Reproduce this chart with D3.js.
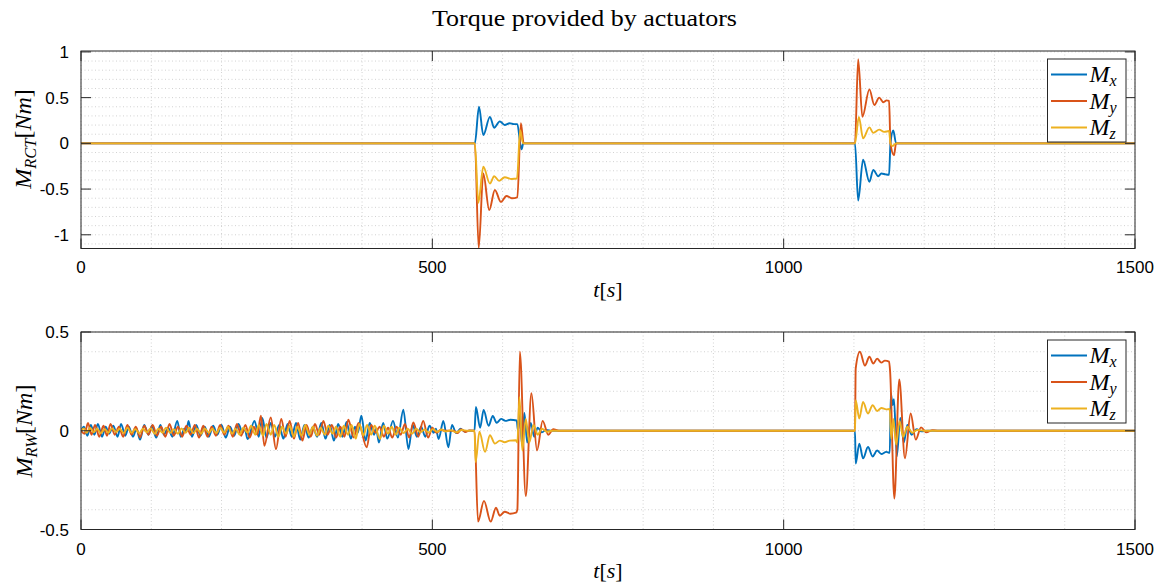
<!DOCTYPE html>
<html><head><meta charset="utf-8">
<script src="https://cdn.jsdelivr.net/npm/d3@7"></script>
<style>body{margin:0;background:#fff;} svg{display:block;}</style>
</head><body><svg id="c" width="1164" height="587"></svg>
<script>
// ---------- data ----------
const titleText = "Torque provided by actuators";
const timeDomain = [0, 1500];
const xTicks = [0, 500, 1000, 1500];
const xTickLabels = ["0", "500", "1000", "1500"];
const rctTicks = [-1, -0.5, 0, 0.5, 1];
const rctTickLabels = ["-1", "-0.5", "0", "0.5", "1"];
const rwTicks = [-0.5, 0, 0.5];
const rwTickLabels = ["-0.5", "0", "0.5"];
const legendSubs = ["x", "y", "z"];
const seriesColors = ["#0072BD", "#D95319", "#EDB120"];

// RCT torques [t (s), M (Nm)]
const rctMx = [[0,0],[560.5,0],[566.4,0.40],[572.5,0.09],[582,0.29],[588,0.17],[596,0.24],[603,0.20],[610,0.22],[616,0.21],[621,0.21],[625,0],[627,-0.065],[629.5,0],
  [1101.5,0],[1106,-0.626],[1113,-0.18],[1122,-0.42],[1127.5,-0.29],[1134.6,-0.36],[1139,-0.33],[1145,-0.34],[1150,-0.345],[1152,0],[1156,0.14],[1160,0],[1500,0]];
const rctMy = [[0,0],[560.5,0],[566,-1.145],[572.5,-0.33],[581,-0.73],[589,-0.51],[597.5,-0.64],[605.5,-0.575],[613,-0.60],[621,-0.59],[626,0.22],[630,0],
  [1101.5,0],[1106,0.92],[1112,0.29],[1122,0.59],[1129,0.42],[1136,0.50],[1142,0.45],[1146.5,0.47],[1150,0.465],[1152,0],[1157,-0.13],[1160,0],[1500,0]];
const rctMz = [[0,0],[560.5,0],[565.5,-0.65],[572.5,-0.255],[582,-0.44],[588,-0.36],[595,-0.41],[603,-0.37],[613,-0.39],[620.5,-0.385],[625,0.145],[629,0],
  [1101.5,0],[1107,0.29],[1113,0.055],[1122,0.175],[1127.5,0.115],[1136,0.15],[1143,0.125],[1150,0.135],[1152,0],[1155,-0.03],[1160,0],[1500,0]];

// Reaction wheel torques [t (s), M (Nm)]
const rwMx = [[0,0],[4,0.02],[9,-0.025],[14,0.03],[19,-0.02],[24,0.035],[30,-0.03],[35,0.02],[40,-0.015],[46,0.025],[52,-0.03],[57,0.035],[63,-0.025],[68,0.02],[74,-0.03],[79,0.01],[84,-0.045],[90,0.03],[96,-0.02],[101,0.025],[107,-0.035],[113,0.03],[118,-0.02],[124,0.015],[130,-0.03],[137,0.05],[142,-0.03],[147,0.01],[150,-0.005],[153,0.05],[158,-0.03],[164,0.03],[170,-0.025],[176,0.02],[182,-0.03],[188,0.025],[194,-0.02],[200,0.03],[206,-0.035],[212,0.02],[218,-0.025],[224,0.035],[230,-0.01],[233,0.01],[237,-0.042],[247,0.05],[253,-0.03],[258,0.065],[264,-0.035],[270,0.04],[276,-0.03],[282,0.03],[288,-0.04],[294,0.035],[300,-0.03],[306,0.04],[312,-0.045],[318,0.03],[324,-0.035],[330,0.02],[336,-0.03],[342,0.04],[348,-0.04],[354,0.03],[360,-0.05],[366,0.035],[372,-0.03],[378,0.045],[384,-0.04],[390,0.02],[394,-0.01],[399,0.076],[405,-0.05],[411,0.04],[417,-0.02],[420,0.01],[424,-0.06],[430,0.04],[436,-0.04],[444,0.05],[451,-0.035],[458.7,0.106],[466,-0.093],[472,0.03],[478,-0.03],[484,0.02],[490,-0.03],[496,0.025],[502,-0.01],[505,0.01],[509,-0.042],[515.7,0.05],[522.8,-0.084],[528,0.03],[534,-0.012],[540,0.01],[546,-0.004],[552,0],[560,0],
  [562,0.12],[568,0.015],[573,0.105],[580,0.025],[586,0.075],[591.5,0.04],[598,0.06],[604,0.05],[611,0.056],[620,0.052],[622,0.0],[624.5,0.1],[627.5,-0.07],[631,0.09],[635,-0.06],[640,0.04],[645,-0.03],[650,0.015],[656,-0.008],[662,0.004],[670,0],
  [1101.5,0],[1102.5,-0.166],[1107.6,-0.065],[1113,-0.14],[1120,-0.082],[1126.6,-0.13],[1133,-0.1],[1139,-0.118],[1146,-0.107],[1151,-0.112],[1152.5,0.19],[1155,0.13],[1157,0.16],[1161,-0.13],[1166,0.065],[1171,-0.06],[1176,0.03],[1182,-0.02],[1189,0.008],[1196,-0.003],[1205,0],[1500,0]];
const rwMy = [[0,0],[5,-0.015],[10,0.039],[15,-0.02],[20,0.03],[26,-0.03],[32,0.025],[37,-0.025],[42,0.035],[48,-0.02],[54,0.02],[60,-0.03],[66,0.03],[72,-0.02],[78,0.02],[84,-0.034],[90,0.025],[96,-0.02],[102,0.03],[108,-0.025],[114,0.02],[120,-0.03],[126,0.035],[132,-0.025],[138,0.02],[144,-0.03],[150,0.025],[156,-0.02],[162,0.03],[168,-0.035],[174,0.025],[180,-0.03],[186,0.02],[192,-0.025],[198,0.03],[204,-0.02],[210,0.025],[216,-0.03],[222,0.035],[228,-0.025],[234,0.03],[240,-0.035],[246,0.02],[251,-0.02],[256,0.076],[261,-0.076],[270,0.067],[277.5,-0.093],[285,0.06],[291,-0.03],[297,0.05],[303,-0.04],[309,0.04],[315,-0.05],[321,0.03],[327,-0.03],[333,0.034],[339,-0.02],[345,0.05],[351,-0.02],[357,0.03],[363,-0.035],[369,0.02],[375,-0.03],[380.5,0.056],[388,-0.034],[395,0.04],[406.6,-0.084],[413,0.03],[419,-0.01],[425,0.02],[431,-0.03],[437,0.015],[443,-0.035],[449,0.02],[455,-0.02],[461,0.034],[467,-0.035],[473,0.042],[480,-0.03],[487,0.05],[494,-0.035],[500,0.015],[506,-0.01],[512,0.005],[518,0],[530,0],[536,-0.012],[541,0.008],[547,-0.006],[553,0.002],[560,0],
  [565,-0.46],[573.5,-0.355],[583,-0.46],[590.6,-0.39],[596,-0.43],[603,-0.41],[611,-0.42],[619,-0.415],[621,-0.4],[624.5,0.40],[633,-0.33],[641,0.19],[649,-0.1],[657,0.05],[665,-0.02],[672,0.008],[680,0],
  [1101.5,0],[1102.5,0.315],[1108.5,0.40],[1115.7,0.33],[1122,0.375],[1127.5,0.34],[1133,0.365],[1139,0.345],[1144,0.355],[1150,0.35],[1151.5,0.3],[1157.5,-0.343],[1164.5,0.26],[1172.6,-0.14],[1180.7,0.087],[1188,-0.045],[1195.5,0.017],[1203,-0.008],[1212,0.003],[1220,0],[1500,0]];
const rwMz = [[0,0],[4,0.012],[8,-0.01],[13,0.015],[18,-0.008],[23,0.01],[28,-0.012],[34,0.008],[39,-0.01],[44,0.012],[50,-0.006],[55,0.01],[61,-0.012],[66,0.015],[72,-0.01],[77,0.008],[83,-0.012],[88,0.01],[94,-0.008],[99,0.012],[105,-0.015],[110,0.01],[116,-0.01],[121,0.015],[127,-0.01],[132,0.008],[138,-0.015],[143,0.012],[149,-0.01],[154,0.015],[160,-0.012],[165,0.01],[171,-0.015],[176,0.012],[182,-0.01],[187,0.01],[193,-0.012],[198,0.015],[204,-0.01],[209,0.02],[215,-0.015],[220,0.01],[226,-0.02],[231,0.015],[237,-0.01],[242,0.025],[248,-0.02],[253,0.03],[259,-0.025],[264,0.035],[270,-0.02],[275,0.03],[281,-0.03],[286,0.02],[292,-0.015],[297,0.025],[303,-0.03],[308,0.02],[314,-0.025],[319,0.03],[325,-0.02],[330,0.02],[336,-0.025],[341,0.015],[347,-0.02],[352,0.025],[358,-0.015],[363,0.02],[369,-0.03],[374,0.025],[380,-0.02],[385,0.03],[391,-0.04],[396,0.035],[402,-0.025],[407,0.03],[413,-0.02],[418,0.025],[425.5,-0.042],[431,0.025],[437,-0.015],[442,0.02],[448,-0.02],[453,0.015],[459,-0.012],[465,0.01],[471,-0.015],[477,0.01],[483,-0.008],[489,0.006],[495,-0.01],[501,0.008],[507,-0.005],[513,0.006],[519,-0.004],[526,0.003],[534,-0.008],[542,0.004],[550,0],[560,0],
  [561.6,-0.158],[567,-0.005],[575,-0.107],[582,-0.023],[589,-0.065],[596,-0.05],[603,-0.058],[610,-0.05],[619,-0.048],[621,-0.06],[624,0.17],[628,-0.1],[633,0.06],[638,-0.06],[644,0.03],[650,-0.02],[656,0.01],[663,-0.005],[670,0],
  [1101.5,0],[1102.5,0.155],[1107.6,0.062],[1113,0.146],[1120,0.087],[1126.6,0.129],[1133,0.1],[1139,0.115],[1146,0.108],[1151,0.11],[1153,-0.04],[1156,0.06],[1160,-0.07],[1165,0.05],[1170,-0.03],[1176,0.02],[1183,-0.01],[1190,0.004],[1200,0],[1500,0]];

// ---------- drawing ----------
const svg = d3.select("#c");
const serif = "'Liberation Serif', 'Times New Roman', serif";
const sans = "'Liberation Sans', Arial, Helvetica, sans-serif";
const axisColor = "#262626";

svg.append("text").attr("x", 584.5).attr("y", 26).attr("text-anchor", "middle")
  .attr("font-family", serif).attr("font-size", 23).attr("fill", "#000")
  .attr("textLength", 305).attr("lengthAdjust", "spacingAndGlyphs")
  .text(titleText);

const panels = [
  {id: "rct", top: 51, bottom: 248.5, yDomain: [-1.15, 1.01], ticks: rctTicks, tickLabels: rctTickLabels,
   series: [rctMx, rctMy, rctMz], sub: "RCT", xLabelBase: 297, tickLabelBase: 273, legendTop: 59,
   ylabelX: 31, ylabelY: 139},
  {id: "rw", top: 332, bottom: 529.5, yDomain: [-0.5, 0.5], ticks: rwTicks, tickLabels: rwTickLabels,
   series: [rwMx, rwMy, rwMz], sub: "RW", xLabelBase: 578, tickLabelBase: 555, legendTop: 340,
   ylabelX: 32, ylabelY: 431}
];
const left = 81, right = 1135;
const x = d3.scaleLinear().domain(timeDomain).range([left, right]);

panels.forEach(p => {
  const y = d3.scaleLinear().domain(p.yDomain).range([p.bottom, p.top]);
  const g = svg.append("g");

  // minor grid
  const minorY = d3.range(Math.ceil(p.yDomain[0] * 10), Math.floor(p.yDomain[1] * 10) + 1).map(v => v / 10);
  const minorX = d3.range(timeDomain[0], timeDomain[1] + 1, 100);
  g.append("g").selectAll("line").data(minorY).join("line")
    .attr("x1", left).attr("x2", right).attr("y1", d => y(d)).attr("y2", d => y(d))
    .attr("stroke", "#d2d2d2").attr("stroke-width", 1).attr("stroke-dasharray", "1,2.5");
  g.append("g").selectAll("line").data(minorX).join("line")
    .attr("y1", p.top).attr("y2", p.bottom).attr("x1", d => x(d)).attr("x2", d => x(d))
    .attr("stroke", "#d2d2d2").attr("stroke-width", 1).attr("stroke-dasharray", "1,2.5");

  // lines
  const clipId = "clip-" + p.id;
  svg.append("clipPath").attr("id", clipId).append("rect")
    .attr("x", left).attr("y", p.top - 1).attr("width", right - left).attr("height", p.bottom - p.top + 2);
  const line = d3.line().x(d => x(d[0])).y(d => y(d[1])).curve(d3.curveMonotoneX);
  const lg = g.append("g").attr("clip-path", `url(#${clipId})`);
  p.series.forEach((s, i) => {
    lg.append("path").attr("d", line(s)).attr("fill", "none")
      .attr("stroke", seriesColors[i]).attr("stroke-width", 1.9).attr("stroke-linejoin", "round");
  });

  // axes box
  g.append("rect").attr("x", left).attr("y", p.top).attr("width", right - left).attr("height", p.bottom - p.top)
    .attr("fill", "none").attr("stroke", axisColor).attr("stroke-width", 1);
  const tl = 10;
  g.append("g").selectAll("line").data(p.ticks).join("line")
    .attr("x1", left).attr("x2", left + tl).attr("y1", d => y(d)).attr("y2", d => y(d))
    .attr("stroke", axisColor);
  g.append("g").selectAll("line").data(p.ticks).join("line")
    .attr("x1", right - tl).attr("x2", right).attr("y1", d => y(d)).attr("y2", d => y(d))
    .attr("stroke", axisColor);
  g.append("g").selectAll("line").data(xTicks).join("line")
    .attr("x1", d => x(d)).attr("x2", d => x(d)).attr("y1", p.bottom).attr("y2", p.bottom - tl)
    .attr("stroke", axisColor);
  g.append("g").selectAll("line").data(xTicks).join("line")
    .attr("x1", d => x(d)).attr("x2", d => x(d)).attr("y1", p.top).attr("y2", p.top + tl)
    .attr("stroke", axisColor);

  // tick labels
  g.append("g").selectAll("text").data(p.ticks).join("text")
    .attr("x", 69).attr("y", d => y(d)).attr("dy", "0.36em").attr("text-anchor", "end")
    .attr("font-family", sans).attr("font-size", 17).attr("fill", "#000")
    .text((d, i) => p.tickLabels[i]);
  g.append("g").selectAll("text").data(xTicks).join("text")
    .attr("x", d => x(d)).attr("y", p.tickLabelBase).attr("text-anchor", "middle")
    .attr("font-family", sans).attr("font-size", 17).attr("fill", "#000")
    .text((d, i) => xTickLabels[i]);

  // x label t[s]
  const xl = g.append("text").attr("x", 608).attr("y", p.xLabelBase).attr("text-anchor", "middle")
    .attr("font-family", serif).attr("font-size", 22).attr("fill", "#000");
  xl.append("tspan").attr("font-style", "italic").text("t");
  xl.append("tspan").text("[");
  xl.append("tspan").attr("font-style", "italic").text("s");
  xl.append("tspan").text("]");

  // y label M_sub[Nm]
  const yl = g.append("text").attr("transform", `translate(${p.ylabelX},${p.ylabelY}) rotate(-90)`)
    .attr("text-anchor", "middle").attr("font-family", serif).attr("font-size", 24).attr("fill", "#000");
  yl.append("tspan").attr("font-style", "italic").text("M");
  yl.append("tspan").attr("font-style", "italic").attr("font-size", 16.5).attr("dy", 5).text(p.sub);
  yl.append("tspan").attr("dy", -5).text("[");
  yl.append("tspan").attr("font-style", "italic").text("Nm");
  yl.append("tspan").text("]");

  // legend
  const lx = 1047.5, lw = 78.5, lh = 83;
  const leg = g.append("g");
  leg.append("rect").attr("x", lx).attr("y", p.legendTop).attr("width", lw).attr("height", lh)
    .attr("fill", "#fff").attr("stroke", axisColor).attr("stroke-width", 1);
  legendSubs.forEach((s, i) => {
    const ry = p.legendTop + 15.5 + i * 26.5;
    leg.append("line").attr("x1", lx + 3.5).attr("x2", lx + 39.5).attr("y1", ry).attr("y2", ry)
      .attr("stroke", seriesColors[i]).attr("stroke-width", 1.9);
    const t = leg.append("text").attr("x", lx + 42).attr("y", ry + 7.5)
      .attr("font-family", serif).attr("font-size", 24).attr("fill", "#000");
    t.append("tspan").attr("font-style", "italic").text("M");
    t.append("tspan").attr("font-style", "italic").attr("font-size", 16).attr("dy", 4).text(s);
  });
});
</script></body></html>
